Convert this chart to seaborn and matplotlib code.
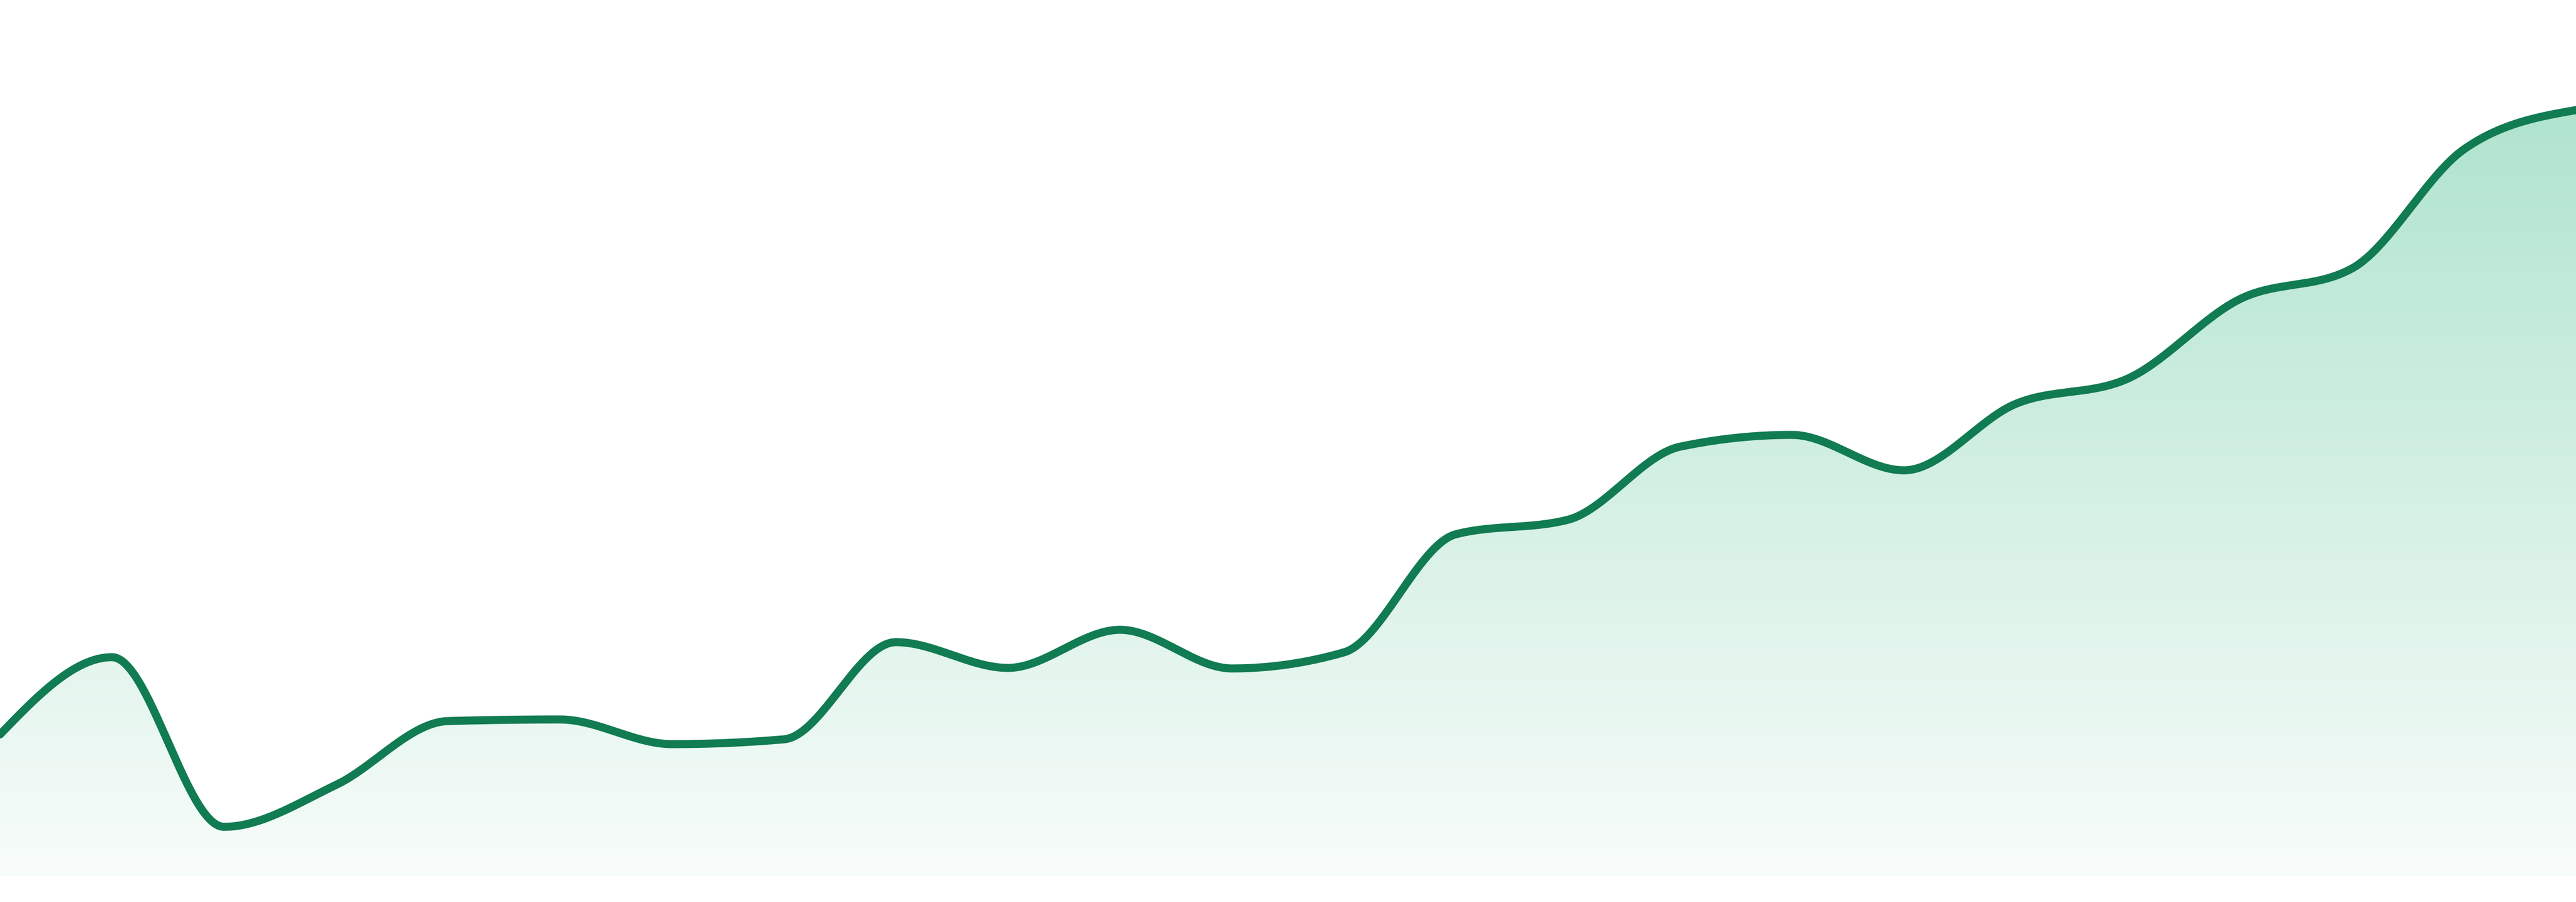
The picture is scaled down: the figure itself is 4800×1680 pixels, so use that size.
import numpy as np
import pandas as pd
import matplotlib
matplotlib.use("Agg")
import matplotlib.pyplot as plt
import seaborn as sns
from matplotlib.colors import to_rgb

# daily values (arbitrary units, 24 points)
days = list(range(24))
values = [26.4, 40.8, 9.2, 17.0, 28.9, 29.2, 24.6, 25.5, 43.6, 38.8, 45.9, 38.7,
          41.7, 63.7, 66.4, 80.0, 82.2, 75.6, 88.0, 92.7, 107.5, 113.2, 135.4, 142.7]

line_color = "#117b52"
fill_top = "#b0e4cf"
fill_bottom = "#f8fcfa"


def monotone_curve(x, y, steps=60):
    # same idea as d3.curveMonotoneX: cubic bezier pieces with limited tangents
    x = np.asarray(x, float)
    y = np.asarray(y, float)
    h = np.diff(x)
    s = np.diff(y) / h
    t = np.zeros(len(x))
    for i in range(1, len(x) - 1):
        h0, h1, s0, s1 = h[i - 1], h[i], s[i - 1], s[i]
        p = (s0 * h1 + s1 * h0) / (h0 + h1)
        t[i] = (np.sign(s0) + np.sign(s1)) * min(abs(s0), abs(s1), 0.5 * abs(p))
    t[0] = (3 * s[0] - t[1]) / 2
    t[-1] = (3 * s[-1] - t[-2]) / 2
    xs, ys = [], []
    u = np.linspace(0, 1, steps, endpoint=False)
    for i in range(len(x) - 1):
        d = h[i]
        px = [x[i], x[i] + d / 3, x[i + 1] - d / 3, x[i + 1]]
        py = [y[i], y[i] + d * t[i] / 3, y[i + 1] - d * t[i + 1] / 3, y[i + 1]]
        b = [(1 - u) ** 3, 3 * u * (1 - u) ** 2, 3 * u ** 2 * (1 - u), u ** 3]
        xs.append(sum(bi * pi for bi, pi in zip(b, px)))
        ys.append(sum(bi * pi for bi, pi in zip(b, py)))
    xs.append([x[-1]])
    ys.append([y[-1]])
    return np.concatenate(xs), np.concatenate(ys)


sns.set_style("white")
fig = plt.figure(figsize=(16, 5.6), dpi=300)
ax = fig.add_axes([0, 0, 1, 1])

cx, cy = monotone_curve(days, values)
curve = pd.DataFrame({"day": cx, "value": cy})

# gradient fill under the curve
top = max(values)
fill = ax.fill_between(curve["day"], curve["value"], 0, color="none", lw=0)
c0 = np.array(to_rgb(fill_bottom))
c1 = np.array(to_rgb(fill_top))
k = np.linspace(0, 1, 256)[:, None]
grad = (c0 + (c1 - c0) * k)[:, None, :]
img = ax.imshow(grad, extent=[days[0], days[-1], 0, top], origin="lower",
                aspect="auto", interpolation="bicubic", zorder=1)
img.set_clip_path(fill.get_paths()[0], transform=ax.transData)

sns.lineplot(data=curve, x="day", y="value", sort=False, estimator=None,
             color=line_color, linewidth=3.6, ax=ax, zorder=3)

ax.set_xlim(days[0], days[-1])
ax.set_ylim(-4.8, 163.2)
ax.set_axis_off()

fig.savefig("out.png", dpi=300, facecolor="white")
